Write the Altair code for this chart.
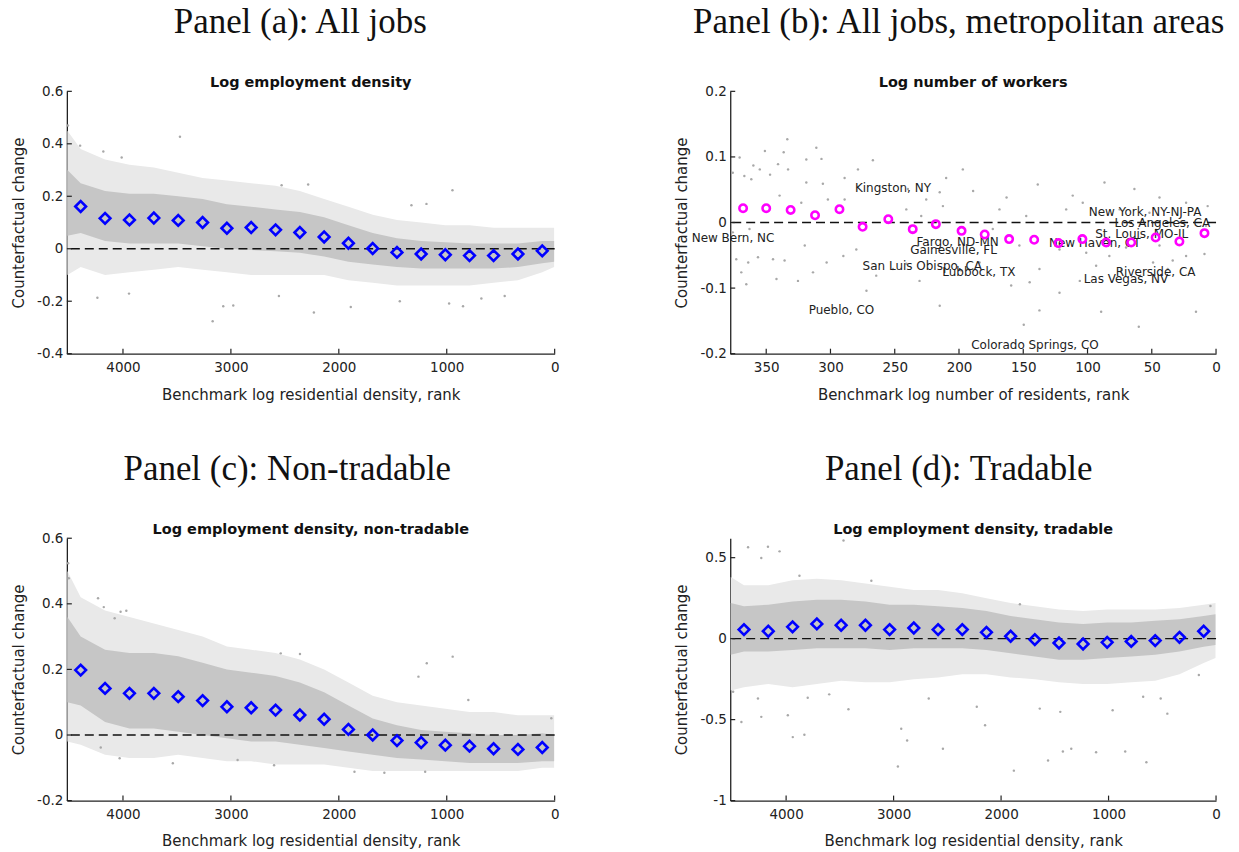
import altair as alt
import pandas as pd

# ---------------- data ----------------
# bin centres (rank) shared by panels a, c, d
bin_rank = [4392, 4166, 3940, 3714, 3488, 3262, 3037, 2812, 2586, 2361,
            2136, 1911, 1686, 1461, 1237, 1013, 789, 566, 340, 115]
a_mean = [0.161, 0.116, 0.110, 0.117, 0.108, 0.100, 0.078, 0.081, 0.072, 0.062,
          0.045, 0.021, 0.001, -0.014, -0.020, -0.023, -0.026, -0.026, -0.020, -0.008]
c_mean = [0.198, 0.142, 0.127, 0.127, 0.117, 0.105, 0.086, 0.083, 0.076, 0.061,
          0.048, 0.017, 0.000, -0.017, -0.023, -0.031, -0.034, -0.042, -0.044, -0.038]
d_mean = [0.056, 0.046, 0.073, 0.091, 0.083, 0.083, 0.056, 0.066, 0.056, 0.056,
          0.039, 0.015, -0.006, -0.027, -0.033, -0.023, -0.017, -0.012, 0.008, 0.046]

# envelope of the grey clouds (edge, 20 bins, edge)
band_rank = [4515, 4392, 4166, 3940, 3714, 3488, 3262, 3037, 2812, 2586, 2361,
             2136, 1911, 1686, 1461, 1237, 1013, 789, 566, 340, 115, 5]
a_core_top = [0.30, 0.25, 0.22, 0.21, 0.21, 0.20, 0.19, 0.17, 0.16, 0.15, 0.14,
              0.12, 0.09, 0.06, 0.04, 0.03, 0.025, 0.02, 0.02, 0.02, 0.03, 0.03]
a_core_bot = [0.05, 0.06, 0.03, 0.02, 0.02, 0.02, 0.01, 0.0, -0.005, -0.01, -0.015,
              -0.03, -0.05, -0.06, -0.07, -0.075, -0.075, -0.075, -0.075, -0.07, -0.055, -0.05]
a_out_top = [0.45, 0.38, 0.34, 0.32, 0.31, 0.29, 0.27, 0.26, 0.25, 0.24, 0.22,
             0.19, 0.16, 0.13, 0.11, 0.10, 0.09, 0.09, 0.08, 0.08, 0.08, 0.08]
a_out_bot = [-0.10, -0.07, -0.10, -0.09, -0.08, -0.07, -0.08, -0.09, -0.10, -0.10, -0.10,
             -0.10, -0.12, -0.13, -0.14, -0.14, -0.14, -0.14, -0.13, -0.12, -0.09, -0.07]

c_core_top = [0.36, 0.30, 0.26, 0.25, 0.25, 0.24, 0.22, 0.20, 0.19, 0.18, 0.16,
              0.13, 0.09, 0.05, 0.03, 0.015, 0.01, 0.005, 0.0, 0.0, 0.005, 0.0]
c_core_bot = [0.10, 0.09, 0.04, 0.02, 0.02, 0.01, 0.0, -0.01, -0.02, -0.02, -0.03,
              -0.04, -0.05, -0.06, -0.07, -0.075, -0.08, -0.085, -0.085, -0.085, -0.08, -0.08]
c_out_top = [0.50, 0.42, 0.38, 0.36, 0.34, 0.32, 0.30, 0.27, 0.26, 0.25, 0.23,
             0.20, 0.16, 0.12, 0.10, 0.09, 0.08, 0.07, 0.07, 0.06, 0.06, 0.06]
c_out_bot = [-0.02, -0.03, -0.06, -0.07, -0.07, -0.06, -0.07, -0.08, -0.08, -0.09, -0.09,
             -0.09, -0.10, -0.11, -0.11, -0.11, -0.11, -0.11, -0.11, -0.11, -0.10, -0.10]

d_core_top = [0.22, 0.20, 0.21, 0.23, 0.24, 0.24, 0.23, 0.21, 0.21, 0.20, 0.19,
              0.17, 0.14, 0.12, 0.10, 0.09, 0.10, 0.10, 0.11, 0.12, 0.14, 0.15]
d_core_bot = [-0.10, -0.08, -0.08, -0.07, -0.06, -0.06, -0.06, -0.07, -0.06, -0.06, -0.06,
              -0.07, -0.09, -0.11, -0.13, -0.13, -0.12, -0.11, -0.10, -0.08, -0.05, -0.04]
d_out_top = [0.38, 0.33, 0.33, 0.36, 0.37, 0.36, 0.34, 0.32, 0.30, 0.30, 0.28,
             0.25, 0.22, 0.20, 0.18, 0.17, 0.18, 0.18, 0.18, 0.19, 0.21, 0.22]
d_out_bot = [-0.32, -0.30, -0.28, -0.30, -0.28, -0.26, -0.27, -0.27, -0.25, -0.24, -0.22,
             -0.22, -0.24, -0.25, -0.27, -0.28, -0.28, -0.27, -0.26, -0.22, -0.15, -0.12]

# isolated grey points outside the envelopes
a_pts_x = [3472, 3169, 4237, 3944, 2231, 1889, 947, 1188, 1327, 4510, 4397, 4182,
           4012, 2530, 2284, 849, 679, 463, 3071, 2978, 2555, 1435, 978]
a_pts_y = [0.427, -0.276, -0.187, -0.171, -0.243, -0.222, 0.223, 0.171, 0.166, 0.47,
           0.393, 0.371, 0.348, 0.242, 0.245, -0.219, -0.19, -0.18, -0.219, -0.216,
           -0.18, -0.2, -0.209]
c_pts_x = [4508, 4502, 4231, 4178, 4022, 3969, 4077, 2538, 2360, 945, 1185, 1262,
           800, 31, 1855, 1578, 1200, 2600, 2938, 3538, 4031, 4206]
c_pts_y = [0.524, 0.478, 0.417, 0.390, 0.376, 0.379, 0.356, 0.249, 0.247, 0.239,
           0.219, 0.178, 0.107, 0.051, -0.112, -0.115, -0.112, -0.092, -0.076,
           -0.086, -0.071, -0.038]
d_pts_x = [4354, 4169, 4061, 4231, 3466, 4416, 3938, 3830, 3984, 4231, 2960, 2874,
           2541, 2929, 1881, 2149, 1563, 1425, 1347, 1116, 845, 648, 962, 1449,
           1640, 453, 515, 678, 2226, 2673, 3420, 3599, 3799, 4262, 4493, 160, 52,
           1825, 3207, 3876]
d_pts_y = [0.564, 0.568, 0.539, 0.498, 0.606, -0.515, -0.608, -0.593, -0.473,
           -0.483, -0.790, -0.629, -0.680, -0.556, -0.815, -0.535, -0.753, -0.697,
           -0.680, -0.701, -0.697, -0.763, -0.442, -0.452, -0.432, -0.463, -0.369,
           -0.359, -0.421, -0.369, -0.436, -0.344, -0.365, -0.369, -0.328, -0.224,
           0.201, 0.212, 0.357, 0.388]

# panel b: metropolitan areas
b_rank = [368, 350, 331, 312, 293, 275, 255, 236, 218, 198,
          180, 161, 141.5, 122.6, 104, 85.5, 66, 47, 28.5, 9]
b_mean = [0.0218, 0.0218, 0.0192, 0.0111, 0.0203, -0.0066, 0.0051, -0.0101, -0.0025,
          -0.0127, -0.0182, -0.0253, -0.0263, -0.0314, -0.0253, -0.0304, -0.0304,
          -0.0228, -0.0289, -0.0162]
b_pts_x = [370.7, 351, 333.6, 336.4, 311, 318.8, 307, 267, 340.8, 333, 355, 360, 376,
           367, 361.6, 347, 318.8, 305.9, 289, 278.6, 197, 210, 215, 239.8, 225.5,
           212.5, 189, 163, 138.7, 111.5, 103.7, 86.8, 63.5, 44, 6.5, 23.3, 116.6,
           147.7, 173.7, 153, 145, 137.4, 159.4, 121.8, 106, 101, 83, 49, 33.7, 9,
           23.3, 89.4, 60.1, 15.6, 137.4, 149.6, 215, 272, 264.4, 251.4, 230.7, 241,
           303, 313.6, 325.3, 342, 365.5, 369.4, 373.3, 364, 356.4, 344.7, 335.7, 320,
           290, 279.9, 376, 363, 236, 199.6, 121.8, 70, 44, 7.8, 241, 229.4, 289, 302,
           322.7, 339.6, 168.5, 75, 51.8, 184, 198.3, 93.3, 73.9, 37.6]
b_pts_y = [0.099, 0.109, 0.127, 0.107, 0.114, 0.096, 0.097, 0.095, 0.089, 0.081,
           0.081, 0.087, 0.076, 0.071, 0.066, 0.073, 0.061, 0.059, 0.068, 0.081,
           0.081, 0.068, 0.046, 0.051, 0.035, 0.025, 0.048, 0.038, 0.058, 0.041,
           0.030, 0.061, 0.051, 0.038, 0.025, 0.030, 0.020, 0.010, -0.010, -0.035,
           -0.091, -0.071, -0.096, -0.107, -0.089, -0.046, -0.051, -0.061, -0.058,
           -0.048, -0.051, -0.136, -0.159, -0.136, -0.134, -0.156, -0.127, -0.104,
           -0.081, -0.071, -0.089, -0.063, -0.061, -0.076, -0.089, -0.086, -0.094,
           -0.076, -0.056, -0.061, -0.053, -0.056, -0.058, -0.035, -0.051, -0.041,
           -0.015, -0.010, -0.015, -0.035, -0.041, -0.038, -0.035, -0.005, 0.020,
           0.010, 0.035, 0.035, 0.030, 0.041, 0.020, 0.020, 0.015, -0.061, -0.073,
           -0.066, -0.073, -0.071]
cities = ["Kingston, NY", "New Bern, NC", "New York, NY-NJ-PA", "Los Angeles, CA",
          "St. Louis, MO-IL", "New Haven, CT", "Fargo, ND-MN", "Gainesville, FL",
          "San Luis Obispo, CA", "Lubbock, TX", "Riverside, CA", "Las Vegas, NV",
          "Pueblo, CO", "Colorado Springs, CO"]
city_rank = [281, 408, 99, 79, 94, 130, 233, 238, 275, 213, 78, 103, 317, 190.5]
city_y = [0.052, -0.024, 0.016, -0.001, -0.017, -0.031, -0.030, -0.042, -0.066,
          -0.076, -0.075, -0.086, -0.134, -0.187]

# axes
xt_rank = [4000, 3000, 2000, 1000, 0]
xt_b = [350, 300, 250, 200, 150, 100, 50, 0]
yt_a = [-0.4, -0.2, 0, 0.2, 0.4, 0.6]
yt_b = [-0.2, -0.1, 0, 0.1, 0.2]
yt_c = [-0.2, 0, 0.2, 0.4, 0.6]
yt_d = [-1, -0.5, 0, 0.5]

XT_RANK = "Benchmark log residential density, rank"
XT_B = "Benchmark log number of residents, rank"
YT = "Counterfactual change"

INK = "#222222"
LABEL_EXPR = "datum.value < 0 ? '-' + format(-datum.value, '~g') : format(datum.value, '~g')"


def panel(w, h, xdom, ydom, xticks, yticks, xtitle, big, big_cx, sub,
          mean_x, mean_y, marker, bands=None, pts_x=None, pts_y=None,
          labels=None):
    xs = alt.Scale(domain=xdom, nice=False, zero=False)
    ys = alt.Scale(domain=ydom, nice=False, zero=False)
    xa = alt.Axis(values=xticks, format="d", title=xtitle, ticks=False, labelPadding=7,
                  labelFlush=False, labelOverlap=False, titlePadding=13)
    ya = alt.Axis(values=yticks, labelExpr=LABEL_EXPR, title=YT, ticks=False,
                  labelPadding=4, labelOverlap=False, titlePadding=10)

    def X(f):
        return alt.X(f, scale=xs, axis=xa)

    def Y(f):
        return alt.Y(f, scale=ys, axis=ya)

    layers = []
    if bands is not None:
        bdf = pd.DataFrame({"r": band_rank, "ot": bands[0], "ob": bands[1],
                            "ct": bands[2], "cb": bands[3]})
        base = alt.Chart(bdf)
        layers.append(base.mark_area(color="#e9e9e9").encode(
            x=X("r:Q"), y=Y("ot:Q"), y2="ob:Q"))
        layers.append(base.mark_area(color="#c6c6c6").encode(
            x=X("r:Q"), y=Y("ct:Q"), y2="cb:Q"))
    if pts_x is not None:
        pdf = pd.DataFrame({"r": pts_x, "v": pts_y})
        layers.append(alt.Chart(pdf).mark_circle(size=6, color="#a8a8a8", opacity=1).encode(
            x=X("r:Q"), y=Y("v:Q")))
    layers.append(alt.Chart(pd.DataFrame({"z": [0]})).mark_rule(
        color="#111111", strokeWidth=1.4, strokeDash=[9, 5]).encode(y=Y("z:Q")))
    # inward ticks
    layers.append(alt.Chart(pd.DataFrame({"t": xticks})).mark_rule(
        color=INK, strokeWidth=1.2).encode(
        x=X("t:Q"), y=alt.value(h), y2=alt.value(h - 5)))
    layers.append(alt.Chart(pd.DataFrame({"t": yticks})).mark_rule(
        color=INK, strokeWidth=1.2).encode(
        y=Y("t:Q"), x=alt.value(0), x2=alt.value(5)))
    if labels is not None:
        ldf = pd.DataFrame({"name": labels[0], "r": labels[1], "v": labels[2]})
        layers.append(alt.Chart(ldf).mark_text(
            align="left", baseline="middle", font="DejaVu Sans", fontSize=12,
            color=INK).encode(x=X("r:Q"), y=Y("v:Q"), text="name:N"))
    mdf = pd.DataFrame({"r": mean_x, "v": mean_y})
    if marker == "diamond":
        mk = alt.Chart(mdf).mark_point(shape="diamond", filled=False, color="#0000ff",
                                       size=115, strokeWidth=2.6, opacity=1)
    else:
        mk = alt.Chart(mdf).mark_point(shape="circle", filled=False, color="#ff00ff",
                                       size=55, strokeWidth=2.6, opacity=1)
    layers.append(mk.encode(x=X("r:Q"), y=Y("v:Q")))
    # panel titles
    layers.append(alt.Chart(pd.DataFrame({"t": [big]})).mark_text(
        font="Liberation Serif", fontSize=35, align="center", baseline="alphabetic",
        color="#111111").encode(text="t:N", x=alt.value(big_cx), y=alt.value(-58)))
    layers.append(alt.Chart(pd.DataFrame({"t": [sub]})).mark_text(
        font="DejaVu Sans", fontSize=14.5, fontWeight="bold", align="center",
        baseline="alphabetic", color="#111111").encode(
        text="t:N", x=alt.value(w / 2), y=alt.value(-4.7)))
    return alt.layer(*layers).properties(width=w, height=h)


pa = panel(489, 263, [4520, 0], [-0.4, 0.6], xt_rank, yt_a, XT_RANK,
           "Panel (a): All jobs", 234, "Log employment density",
           bin_rank, a_mean, "diamond",
           bands=(a_out_top, a_out_bot, a_core_top, a_core_bot),
           pts_x=a_pts_x, pts_y=a_pts_y)
pb = panel(487, 263, [378, 0], [-0.2, 0.2], xt_b, yt_b, XT_B,
           "Panel (b): All jobs, metropolitan areas", 229, "Log number of workers",
           b_rank, b_mean, "circle", pts_x=b_pts_x, pts_y=b_pts_y,
           labels=(cities, city_rank, city_y))
pc = panel(489, 263, [4520, 0], [-0.2, 0.6], xt_rank, yt_c, XT_RANK,
           "Panel (c): Non-tradable", 221, "Log employment density, non-tradable",
           bin_rank, c_mean, "diamond",
           bands=(c_out_top, c_out_bot, c_core_top, c_core_bot),
           pts_x=c_pts_x, pts_y=c_pts_y)
pd_ = panel(487, 263, [4520, 0], [-1, 0.62], xt_rank, yt_d, XT_RANK,
            "Panel (d): Tradable", 229, "Log employment density, tradable",
            bin_rank, d_mean, "diamond",
            bands=(d_out_top, d_out_bot, d_core_top, d_core_bot),
            pts_x=d_pts_x, pts_y=d_pts_y)

chart = alt.concat(pa, pb, pc, pd_, columns=2,
                   spacing={"row": 185, "column": 176}, bounds="flush").properties(
    padding={"left": 3, "top": -3.5, "right": 5, "bottom": 5},
    background="white"
).configure_view(stroke=None).configure_axis(
    grid=False, domainColor=INK, domainWidth=1.3,
    labelFont="DejaVu Sans", labelFontSize=13.5, labelColor=INK,
    titleFont="DejaVu Sans", titleFontSize=15, titleFontWeight="normal",
    titleColor=INK
)

chart.save("out.html", embed_options={"renderer": "svg", "actions": False})
